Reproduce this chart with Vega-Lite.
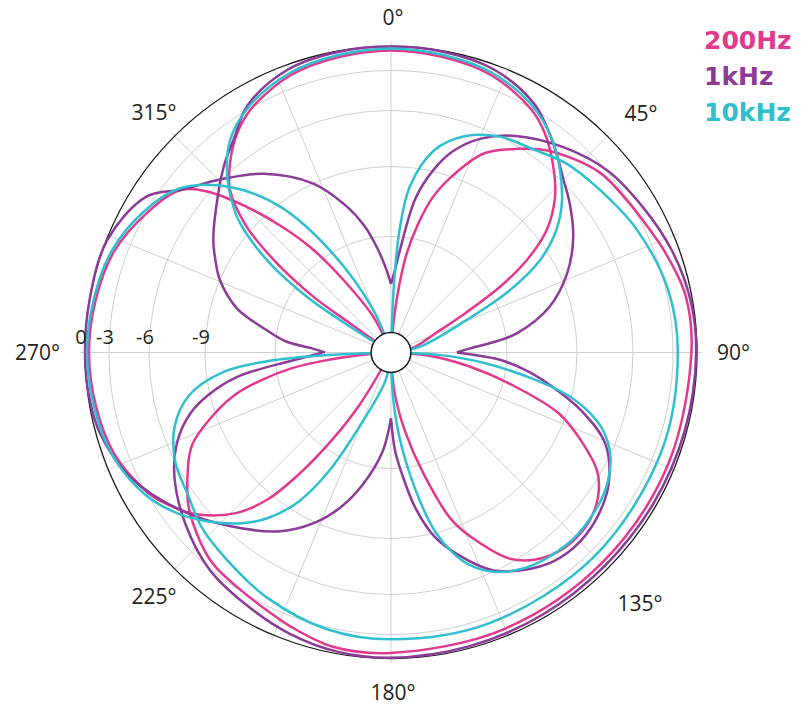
{
  "$schema": "https://vega.github.io/schema/vega-lite/v6.json",
  "width": 612,
  "height": 612,
  "autosize": {"type": "none"},
  "padding": {"left": 85, "top": 46.5, "right": 114, "bottom": 46.5},
  "background": "white",
  "config": {"view": {"stroke": null}, "font": "Open Sans"},
  "datasets": {
    "curves": [
      {"f":"200Hz","p":"top","a":-56,"db":-16.4},{"f":"200Hz","p":"top","a":-54.6,"db":-14.5},{"f":"200Hz","p":"top","a":-54.3,"db":-12.8},{"f":"200Hz","p":"top","a":-52,"db":-10.8},{"f":"200Hz","p":"top","a":-48.9,"db":-8.7},{"f":"200Hz","p":"top","a":-44.7,"db":-6.7},{"f":"200Hz","p":"top","a":-40,"db":-5.4},{"f":"200Hz","p":"top","a":-35,"db":-4.05},{"f":"200Hz","p":"top","a":-30,"db":-3.1},{"f":"200Hz","p":"top","a":-20,"db":-1.4},{"f":"200Hz","p":"top","a":-10,"db":-0.75},{"f":"200Hz","p":"top","a":0,"db":-0.5},{"f":"200Hz","p":"top","a":10,"db":-0.75},{"f":"200Hz","p":"top","a":20,"db":-1.4},{"f":"200Hz","p":"top","a":30,"db":-3.1},{"f":"200Hz","p":"top","a":35,"db":-4.05},{"f":"200Hz","p":"top","a":40.6,"db":-5.5},{"f":"200Hz","p":"top","a":46.5,"db":-6.85},{"f":"200Hz","p":"top","a":51.8,"db":-8.35},{"f":"200Hz","p":"top","a":55.7,"db":-9.9},{"f":"200Hz","p":"top","a":58.9,"db":-11.5},{"f":"200Hz","p":"top","a":62.6,"db":-13.4},{"f":"200Hz","p":"top","a":66.3,"db":-14.5},{"f":"200Hz","p":"top","a":79,"db":-15.6},{"f":"200Hz","p":"top","a":82,"db":-16.4},
      {"f":"200Hz","p":"left","a":208,"db":-16.4},{"f":"200Hz","p":"left","a":211,"db":-14.1},{"f":"200Hz","p":"left","a":214,"db":-12.4},{"f":"200Hz","p":"left","a":217,"db":-10.5},{"f":"200Hz","p":"left","a":220,"db":-8.7},{"f":"200Hz","p":"left","a":224,"db":-7.0},{"f":"200Hz","p":"left","a":230,"db":-5.25},{"f":"200Hz","p":"left","a":235,"db":-4.05},{"f":"200Hz","p":"left","a":240,"db":-3.1},{"f":"200Hz","p":"left","a":250,"db":-1.4},{"f":"200Hz","p":"left","a":260,"db":-0.75},{"f":"200Hz","p":"left","a":270,"db":-0.5},{"f":"200Hz","p":"left","a":280,"db":-0.75},{"f":"200Hz","p":"left","a":290,"db":-1.4},{"f":"200Hz","p":"left","a":300,"db":-3.1},{"f":"200Hz","p":"left","a":307.6,"db":-4.2},{"f":"200Hz","p":"left","a":311.5,"db":-6.0},{"f":"200Hz","p":"left","a":315.3,"db":-8.0},{"f":"200Hz","p":"left","a":319,"db":-9.8},{"f":"200Hz","p":"left","a":322.8,"db":-11.4},{"f":"200Hz","p":"left","a":327,"db":-13.2},{"f":"200Hz","p":"left","a":333.7,"db":-14.9},{"f":"200Hz","p":"left","a":337,"db":-16.4},
      {"f":"200Hz","p":"inner","a":91,"db":-16.4},{"f":"200Hz","p":"inner","a":95,"db":-14.9},{"f":"200Hz","p":"inner","a":100,"db":-13.4},{"f":"200Hz","p":"inner","a":105,"db":-11.6},{"f":"200Hz","p":"inner","a":110,"db":-9.3},{"f":"200Hz","p":"inner","a":115,"db":-7.7},{"f":"200Hz","p":"inner","a":120,"db":-6.2},{"f":"200Hz","p":"inner","a":125,"db":-5.2},{"f":"200Hz","p":"inner","a":130,"db":-4.65},{"f":"200Hz","p":"inner","a":135,"db":-4.5},{"f":"200Hz","p":"inner","a":140,"db":-4.65},{"f":"200Hz","p":"inner","a":145,"db":-5.2},{"f":"200Hz","p":"inner","a":150,"db":-6.2},{"f":"200Hz","p":"inner","a":155,"db":-7.7},{"f":"200Hz","p":"inner","a":160,"db":-9.3},{"f":"200Hz","p":"inner","a":165,"db":-11.6},{"f":"200Hz","p":"inner","a":170,"db":-13.4},{"f":"200Hz","p":"inner","a":175,"db":-14.9},{"f":"200Hz","p":"inner","a":179,"db":-16.4},
      {"f":"200Hz","p":"big","a":3,"db":-16.4},{"f":"200Hz","p":"big","a":5,"db":-15.1},{"f":"200Hz","p":"big","a":7,"db":-13.8},{"f":"200Hz","p":"big","a":9,"db":-12.6},{"f":"200Hz","p":"big","a":12,"db":-11.3},{"f":"200Hz","p":"big","a":15,"db":-10.1},{"f":"200Hz","p":"big","a":19,"db":-9.0},{"f":"200Hz","p":"big","a":25,"db":-7.2},{"f":"200Hz","p":"big","a":32,"db":-6.1},{"f":"200Hz","p":"big","a":38,"db":-4.95},{"f":"200Hz","p":"big","a":49,"db":-3.5},{"f":"200Hz","p":"big","a":57,"db":-3.1},{"f":"200Hz","p":"big","a":65,"db":-2.4},{"f":"200Hz","p":"big","a":70,"db":-1.75},{"f":"200Hz","p":"big","a":79,"db":-0.75},{"f":"200Hz","p":"big","a":90,"db":-0.7},{"f":"200Hz","p":"big","a":112,"db":-0.9},{"f":"200Hz","p":"big","a":135,"db":-1.0},{"f":"200Hz","p":"big","a":158,"db":-0.9},{"f":"200Hz","p":"big","a":180,"db":-0.7},{"f":"200Hz","p":"big","a":191,"db":-0.75},{"f":"200Hz","p":"big","a":200,"db":-1.75},{"f":"200Hz","p":"big","a":205,"db":-2.4},{"f":"200Hz","p":"big","a":213,"db":-3.1},{"f":"200Hz","p":"big","a":221,"db":-3.5},{"f":"200Hz","p":"big","a":232,"db":-4.95},{"f":"200Hz","p":"big","a":238,"db":-6.1},{"f":"200Hz","p":"big","a":245,"db":-7.2},{"f":"200Hz","p":"big","a":251,"db":-9.0},{"f":"200Hz","p":"big","a":255,"db":-10.1},{"f":"200Hz","p":"big","a":258,"db":-11.3},{"f":"200Hz","p":"big","a":261,"db":-12.6},{"f":"200Hz","p":"big","a":263,"db":-13.8},{"f":"200Hz","p":"big","a":265,"db":-15.1},{"f":"200Hz","p":"big","a":267,"db":-16.4},

      {"f":"1kHz","p":"top","a":-90,"db":-13.9},{"f":"1kHz","p":"top","a":-87,"db":-13.4},{"f":"1kHz","p":"top","a":-84,"db":-12.4},{"f":"1kHz","p":"top","a":-80,"db":-11.6},{"f":"1kHz","p":"top","a":-74,"db":-10.1},{"f":"1kHz","p":"top","a":-67,"db":-9.0},{"f":"1kHz","p":"top","a":-62,"db":-8.3},{"f":"1kHz","p":"top","a":-57.7,"db":-7.7},{"f":"1kHz","p":"top","a":-50,"db":-6.75},{"f":"1kHz","p":"top","a":-42,"db":-5.4},{"f":"1kHz","p":"top","a":-36.5,"db":-4.3},{"f":"1kHz","p":"top","a":-30,"db":-2.5},{"f":"1kHz","p":"top","a":-20,"db":-0.6},{"f":"1kHz","p":"top","a":-10,"db":-0.1},{"f":"1kHz","p":"top","a":0,"db":0},{"f":"1kHz","p":"top","a":10,"db":-0.1},{"f":"1kHz","p":"top","a":20,"db":-0.6},{"f":"1kHz","p":"top","a":30,"db":-2.4},{"f":"1kHz","p":"top","a":36,"db":-3.9},{"f":"1kHz","p":"top","a":40.7,"db":-4.95},{"f":"1kHz","p":"top","a":45,"db":-5.85},{"f":"1kHz","p":"top","a":50.2,"db":-6.5},{"f":"1kHz","p":"top","a":57.6,"db":-7.4},{"f":"1kHz","p":"top","a":65.7,"db":-8.6},{"f":"1kHz","p":"top","a":73.9,"db":-9.9},{"f":"1kHz","p":"top","a":81.3,"db":-11.5},{"f":"1kHz","p":"top","a":84,"db":-12.4},{"f":"1kHz","p":"top","a":87,"db":-13.4},{"f":"1kHz","p":"top","a":90,"db":-13.9},
      {"f":"1kHz","p":"inner","a":90,"db":-13.9},{"f":"1kHz","p":"inner","a":94,"db":-12.2},{"f":"1kHz","p":"inner","a":98,"db":-11.0},{"f":"1kHz","p":"inner","a":102,"db":-9.9},{"f":"1kHz","p":"inner","a":107,"db":-8.3},{"f":"1kHz","p":"inner","a":113,"db":-6.5},{"f":"1kHz","p":"inner","a":121,"db":-5.1},{"f":"1kHz","p":"inner","a":128,"db":-4.4},{"f":"1kHz","p":"inner","a":135,"db":-4.1},{"f":"1kHz","p":"inner","a":142,"db":-4.3},{"f":"1kHz","p":"inner","a":149,"db":-5.1},{"f":"1kHz","p":"inner","a":155,"db":-6.1},{"f":"1kHz","p":"inner","a":161,"db":-7.4},{"f":"1kHz","p":"inner","a":166.6,"db":-8.8},{"f":"1kHz","p":"inner","a":171,"db":-10.2},{"f":"1kHz","p":"inner","a":175,"db":-11.8},{"f":"1kHz","p":"inner","a":177.7,"db":-12.7},{"f":"1kHz","p":"inner","a":180,"db":-13.9},
      {"f":"1kHz","p":"left","a":180,"db":-13.9},{"f":"1kHz","p":"left","a":185,"db":-12.6},{"f":"1kHz","p":"left","a":192,"db":-11.2},{"f":"1kHz","p":"left","a":198,"db":-10.0},{"f":"1kHz","p":"left","a":204.5,"db":-8.9},{"f":"1kHz","p":"left","a":211.8,"db":-7.7},{"f":"1kHz","p":"left","a":222.7,"db":-6.3},{"f":"1kHz","p":"left","a":233.3,"db":-4.4},{"f":"1kHz","p":"left","a":244.6,"db":-2.1},{"f":"1kHz","p":"left","a":254.5,"db":-0.5},{"f":"1kHz","p":"left","a":262,"db":-0.1},{"f":"1kHz","p":"left","a":270,"db":0},{"f":"1kHz","p":"left","a":280,"db":0},{"f":"1kHz","p":"left","a":291.6,"db":-0.1},{"f":"1kHz","p":"left","a":302.5,"db":-2.0},{"f":"1kHz","p":"left","a":308,"db":-4.3},{"f":"1kHz","p":"left","a":315.3,"db":-5.9},{"f":"1kHz","p":"left","a":324.5,"db":-7.2},{"f":"1kHz","p":"left","a":335.3,"db":-9.0},{"f":"1kHz","p":"left","a":343,"db":-10.4},{"f":"1kHz","p":"left","a":348,"db":-11.4},{"f":"1kHz","p":"left","a":352,"db":-12.3},{"f":"1kHz","p":"left","a":356,"db":-13.1},{"f":"1kHz","p":"left","a":360,"db":-13.8},
      {"f":"1kHz","p":"big","a":0,"db":-13.8},{"f":"1kHz","p":"big","a":3,"db":-13.2},{"f":"1kHz","p":"big","a":5,"db":-12.5},{"f":"1kHz","p":"big","a":9,"db":-10.3},{"f":"1kHz","p":"big","a":13,"db":-8.95},{"f":"1kHz","p":"big","a":17,"db":-7.7},{"f":"1kHz","p":"big","a":23,"db":-6.5},{"f":"1kHz","p":"big","a":30,"db":-5.4},{"f":"1kHz","p":"big","a":40,"db":-4.05},{"f":"1kHz","p":"big","a":50,"db":-2.9},{"f":"1kHz","p":"big","a":60,"db":-1.9},{"f":"1kHz","p":"big","a":70,"db":-0.9},{"f":"1kHz","p":"big","a":80,"db":-0.25},{"f":"1kHz","p":"big","a":90,"db":-0.1},{"f":"1kHz","p":"big","a":105,"db":-0.25},{"f":"1kHz","p":"big","a":120,"db":-0.4},{"f":"1kHz","p":"big","a":135,"db":-0.5},{"f":"1kHz","p":"big","a":150,"db":-0.4},{"f":"1kHz","p":"big","a":165,"db":-0.25},{"f":"1kHz","p":"big","a":180,"db":-0.1},{"f":"1kHz","p":"big","a":190,"db":-0.25},{"f":"1kHz","p":"big","a":200,"db":-0.9},{"f":"1kHz","p":"big","a":210,"db":-1.9},{"f":"1kHz","p":"big","a":220,"db":-2.9},{"f":"1kHz","p":"big","a":230,"db":-4.05},{"f":"1kHz","p":"big","a":240,"db":-5.4},{"f":"1kHz","p":"big","a":247,"db":-6.5},{"f":"1kHz","p":"big","a":253,"db":-7.7},{"f":"1kHz","p":"big","a":257,"db":-8.95},{"f":"1kHz","p":"big","a":261,"db":-10.3},{"f":"1kHz","p":"big","a":265,"db":-12.5},{"f":"1kHz","p":"big","a":267,"db":-13.2},{"f":"1kHz","p":"big","a":270,"db":-13.8},

      {"f":"10kHz","p":"top","a":-59,"db":-16.4},{"f":"10kHz","p":"top","a":-57.5,"db":-14.1},{"f":"10kHz","p":"top","a":-56.5,"db":-12.6},{"f":"10kHz","p":"top","a":-53.6,"db":-10.5},{"f":"10kHz","p":"top","a":-49.4,"db":-8.3},{"f":"10kHz","p":"top","a":-47.2,"db":-7.45},{"f":"10kHz","p":"top","a":-42.5,"db":-5.95},{"f":"10kHz","p":"top","a":-37.1,"db":-4.15},{"f":"10kHz","p":"top","a":-30,"db":-2.75},{"f":"10kHz","p":"top","a":-20,"db":-1.1},{"f":"10kHz","p":"top","a":-10,"db":-0.5},{"f":"10kHz","p":"top","a":0,"db":-0.25},{"f":"10kHz","p":"top","a":10,"db":-0.5},{"f":"10kHz","p":"top","a":20,"db":-1.1},{"f":"10kHz","p":"top","a":30,"db":-2.75},{"f":"10kHz","p":"top","a":37,"db":-4.1},{"f":"10kHz","p":"top","a":42.8,"db":-5.5},{"f":"10kHz","p":"top","a":48.8,"db":-6.8},{"f":"10kHz","p":"top","a":53.5,"db":-7.95},{"f":"10kHz","p":"top","a":58.2,"db":-9.45},{"f":"10kHz","p":"top","a":62.3,"db":-11.2},{"f":"10kHz","p":"top","a":66.8,"db":-13.3},{"f":"10kHz","p":"top","a":78.7,"db":-15.3},{"f":"10kHz","p":"top","a":82,"db":-16.4},
      {"f":"10kHz","p":"left","a":188,"db":-16.4},{"f":"10kHz","p":"left","a":191.3,"db":-15.3},{"f":"10kHz","p":"left","a":203.2,"db":-13.3},{"f":"10kHz","p":"left","a":207.7,"db":-11.2},{"f":"10kHz","p":"left","a":211.8,"db":-9.45},{"f":"10kHz","p":"left","a":216.5,"db":-7.95},{"f":"10kHz","p":"left","a":221.2,"db":-6.8},{"f":"10kHz","p":"left","a":227.2,"db":-5.5},{"f":"10kHz","p":"left","a":233,"db":-4.1},{"f":"10kHz","p":"left","a":240,"db":-2.75},{"f":"10kHz","p":"left","a":250,"db":-1.1},{"f":"10kHz","p":"left","a":260,"db":-0.5},{"f":"10kHz","p":"left","a":270,"db":-0.25},{"f":"10kHz","p":"left","a":280,"db":-0.5},{"f":"10kHz","p":"left","a":290,"db":-1.1},{"f":"10kHz","p":"left","a":300,"db":-2.75},{"f":"10kHz","p":"left","a":307.9,"db":-4.1},{"f":"10kHz","p":"left","a":315.8,"db":-6.6},{"f":"10kHz","p":"left","a":322.7,"db":-9.1},{"f":"10kHz","p":"left","a":329.2,"db":-11.9},{"f":"10kHz","p":"left","a":337.4,"db":-14.65},{"f":"10kHz","p":"left","a":341,"db":-16.4},
      {"f":"10kHz","p":"inner","a":90,"db":-16.4},{"f":"10kHz","p":"inner","a":93,"db":-14.5},{"f":"10kHz","p":"inner","a":96.5,"db":-12.8},{"f":"10kHz","p":"inner","a":101,"db":-10.5},{"f":"10kHz","p":"inner","a":104,"db":-9.0},{"f":"10kHz","p":"inner","a":107,"db":-7.8},{"f":"10kHz","p":"inner","a":110,"db":-6.9},{"f":"10kHz","p":"inner","a":115,"db":-6.0},{"f":"10kHz","p":"inner","a":121,"db":-5.2},{"f":"10kHz","p":"inner","a":125,"db":-4.9},{"f":"10kHz","p":"inner","a":130,"db":-4.7},{"f":"10kHz","p":"inner","a":135,"db":-4.6},{"f":"10kHz","p":"inner","a":140,"db":-4.7},{"f":"10kHz","p":"inner","a":145,"db":-4.9},{"f":"10kHz","p":"inner","a":149,"db":-5.2},{"f":"10kHz","p":"inner","a":155,"db":-6.0},{"f":"10kHz","p":"inner","a":160,"db":-6.9},{"f":"10kHz","p":"inner","a":163,"db":-7.8},{"f":"10kHz","p":"inner","a":166,"db":-9.0},{"f":"10kHz","p":"inner","a":169,"db":-10.5},{"f":"10kHz","p":"inner","a":173.5,"db":-12.8},{"f":"10kHz","p":"inner","a":177,"db":-14.5},{"f":"10kHz","p":"inner","a":180,"db":-16.4},
      {"f":"10kHz","p":"big","a":1,"db":-16.4},{"f":"10kHz","p":"big","a":2.5,"db":-13.8},{"f":"10kHz","p":"big","a":4,"db":-11.7},{"f":"10kHz","p":"big","a":6.5,"db":-9.8},{"f":"10kHz","p":"big","a":12,"db":-7.9},{"f":"10kHz","p":"big","a":19,"db":-6.7},{"f":"10kHz","p":"big","a":27,"db":-6.0},{"f":"10kHz","p":"big","a":35,"db":-5.55},{"f":"10kHz","p":"big","a":43,"db":-4.8},{"f":"10kHz","p":"big","a":52,"db":-4.3},{"f":"10kHz","p":"big","a":63,"db":-3.56},{"f":"10kHz","p":"big","a":77,"db":-2.75},{"f":"10kHz","p":"big","a":90,"db":-2.4},{"f":"10kHz","p":"big","a":110,"db":-2.25},{"f":"10kHz","p":"big","a":135,"db":-2.25},{"f":"10kHz","p":"big","a":160,"db":-2.25},{"f":"10kHz","p":"big","a":180,"db":-2.4},{"f":"10kHz","p":"big","a":193,"db":-2.75},{"f":"10kHz","p":"big","a":207,"db":-3.56},{"f":"10kHz","p":"big","a":218,"db":-4.3},{"f":"10kHz","p":"big","a":227,"db":-4.8},{"f":"10kHz","p":"big","a":235,"db":-5.55},{"f":"10kHz","p":"big","a":243,"db":-6.0},{"f":"10kHz","p":"big","a":251,"db":-6.7},{"f":"10kHz","p":"big","a":258,"db":-7.9},{"f":"10kHz","p":"big","a":263.5,"db":-9.8},{"f":"10kHz","p":"big","a":266,"db":-11.7},{"f":"10kHz","p":"big","a":267.5,"db":-13.8},{"f":"10kHz","p":"big","a":269,"db":-16.4}
    ],
    "angles": [
      {"a": 0, "t": "0°"}, {"a": 45, "t": "45°"}, {"a": 90, "t": "90°"}, {"a": 135, "t": "135°"},
      {"a": 180, "t": "180°"}, {"a": 225, "t": "225°"}, {"a": 270, "t": "270°"}, {"a": 315, "t": "315°"}
    ]
  },
  "layer": [
    {
      "data": {"values": [{"a":0},{"a":22.5},{"a":45},{"a":67.5},{"a":90},{"a":112.5},{"a":135},{"a":157.5},{"a":180},{"a":202.5},{"a":225},{"a":247.5},{"a":270},{"a":292.5},{"a":315},{"a":337.5}]},
      "transform": [
        {"calculate": "1.015 * sin(datum.a * PI / 180)", "as": "ex"},
        {"calculate": "1.015 * cos(datum.a * PI / 180)", "as": "ey"},
        {"calculate": "0", "as": "cx"}
      ],
      "mark": {"type": "rule", "color": "#cfcfcf", "strokeWidth": 1},
      "encoding": {
        "x": {"field": "cx", "type": "quantitative", "scale": {"domain": [-1, 1], "nice": false, "zero": false}, "axis": null},
        "y": {"field": "cx", "type": "quantitative", "scale": {"domain": [-1, 1], "nice": false, "zero": false}, "axis": null},
        "x2": {"field": "ex"},
        "y2": {"field": "ey"}
      }
    },
    {
      "data": {"values": [{"db": -3}, {"db": -6}, {"db": -9}, {"db": -12}, {"db": 0}]},
      "transform": [
        {"calculate": "datum.db >= -3 ? 1 + datum.db * 0.026133 : datum.db >= -6 ? 0.9216 + (datum.db + 3) * 0.0436 : datum.db >= -9 ? 0.7908 + (datum.db + 6) * 0.061 : datum.db >= -12 ? 0.6078 + (datum.db + 9) * 0.07623 : max(0, 0.3791 + (datum.db + 12) * 0.08616)", "as": "rn"},
        {"calculate": "0", "as": "cx"},
        {"calculate": "datum.db === 0 ? 'outer' : 'grid'", "as": "kind"}
      ],
      "mark": {"type": "point", "shape": "circle", "filled": false, "opacity": 1},
      "encoding": {
        "x": {"field": "cx", "type": "quantitative", "scale": {"domain": [-1, 1], "nice": false, "zero": false}, "axis": null},
        "y": {"field": "cx", "type": "quantitative", "scale": {"domain": [-1, 1], "nice": false, "zero": false}, "axis": null},
        "size": {"field": "rn", "type": "quantitative", "scale": {"type": "pow", "exponent": 2, "domain": [0, 1], "range": [0, 374544], "zero": true}, "legend": null},
        "stroke": {"field": "kind", "type": "nominal", "scale": {"domain": ["grid", "outer"], "range": ["#cfcfcf", "#1a1a1a"]}, "legend": null},
        "strokeWidth": {"field": "kind", "type": "nominal", "scale": {"domain": ["grid", "outer"], "range": [1, 1.3]}, "legend": null}
      }
    },
    {
      "data": {"name": "curves"},
      "transform": [
        {"filter": "datum.f === '200Hz'"},
        {"calculate": "datum.db >= -3 ? 1 + datum.db * 0.026133 : datum.db >= -6 ? 0.9216 + (datum.db + 3) * 0.0436 : datum.db >= -9 ? 0.7908 + (datum.db + 6) * 0.061 : datum.db >= -12 ? 0.6078 + (datum.db + 9) * 0.07623 : max(0, 0.3791 + (datum.db + 12) * 0.08616)", "as": "rn"},
        {"calculate": "datum.rn * sin(datum.a * PI / 180)", "as": "x"},
        {"calculate": "datum.rn * cos(datum.a * PI / 180)", "as": "y"}
      ],
      "mark": {"type": "line", "strokeWidth": 2.5, "interpolate": "catmull-rom"},
      "encoding": {
        "x": {"field": "x", "type": "quantitative", "scale": {"domain": [-1, 1], "nice": false, "zero": false}, "axis": null},
        "y": {"field": "y", "type": "quantitative", "scale": {"domain": [-1, 1], "nice": false, "zero": false}, "axis": null},
        "color": {"field": "f", "type": "nominal", "scale": {"domain": ["200Hz", "1kHz", "10kHz"], "range": ["#e2398e", "#8c3b98", "#2fbfcf"]},
          "legend": {"orient": "none", "legendX": 594, "legendY": -18, "title": null, "symbolSize": 0, "symbolStrokeWidth": 0, "symbolOpacity": 0, "labelOffset": 0, "labelFont": "DejaVu Sans", "labelFontWeight": "bold", "labelFontSize": 25, "rowPadding": 10, "padding": 0,
            "encode": {"labels": {"update": {"fill": {"scale": "color", "field": "value"}}}}}},
        "detail": {"field": "p", "type": "nominal"},
        "order": {"field": "a", "type": "quantitative"}
      }
    },
    {
      "data": {"name": "curves"},
      "transform": [
        {"filter": "datum.f === '1kHz'"},
        {"calculate": "datum.db >= -3 ? 1 + datum.db * 0.026133 : datum.db >= -6 ? 0.9216 + (datum.db + 3) * 0.0436 : datum.db >= -9 ? 0.7908 + (datum.db + 6) * 0.061 : datum.db >= -12 ? 0.6078 + (datum.db + 9) * 0.07623 : max(0, 0.3791 + (datum.db + 12) * 0.08616)", "as": "rn"},
        {"calculate": "datum.rn * sin(datum.a * PI / 180)", "as": "x"},
        {"calculate": "datum.rn * cos(datum.a * PI / 180)", "as": "y"}
      ],
      "mark": {"type": "line", "strokeWidth": 2.5, "interpolate": "catmull-rom"},
      "encoding": {
        "x": {"field": "x", "type": "quantitative", "scale": {"domain": [-1, 1], "nice": false, "zero": false}, "axis": null},
        "y": {"field": "y", "type": "quantitative", "scale": {"domain": [-1, 1], "nice": false, "zero": false}, "axis": null},
        "color": {"field": "f", "type": "nominal", "scale": {"domain": ["200Hz", "1kHz", "10kHz"], "range": ["#e2398e", "#8c3b98", "#2fbfcf"]},
          "legend": {"orient": "none", "legendX": 594, "legendY": -18, "title": null, "symbolSize": 0, "symbolStrokeWidth": 0, "symbolOpacity": 0, "labelOffset": 0, "labelFont": "DejaVu Sans", "labelFontWeight": "bold", "labelFontSize": 25, "rowPadding": 10, "padding": 0,
            "encode": {"labels": {"update": {"fill": {"scale": "color", "field": "value"}}}}}},
        "detail": {"field": "p", "type": "nominal"},
        "order": {"field": "a", "type": "quantitative"}
      }
    },
    {
      "data": {"name": "curves"},
      "transform": [
        {"filter": "datum.f === '10kHz'"},
        {"calculate": "datum.db >= -3 ? 1 + datum.db * 0.026133 : datum.db >= -6 ? 0.9216 + (datum.db + 3) * 0.0436 : datum.db >= -9 ? 0.7908 + (datum.db + 6) * 0.061 : datum.db >= -12 ? 0.6078 + (datum.db + 9) * 0.07623 : max(0, 0.3791 + (datum.db + 12) * 0.08616)", "as": "rn"},
        {"calculate": "datum.rn * sin(datum.a * PI / 180)", "as": "x"},
        {"calculate": "datum.rn * cos(datum.a * PI / 180)", "as": "y"}
      ],
      "mark": {"type": "line", "strokeWidth": 2.5, "interpolate": "catmull-rom"},
      "encoding": {
        "x": {"field": "x", "type": "quantitative", "scale": {"domain": [-1, 1], "nice": false, "zero": false}, "axis": null},
        "y": {"field": "y", "type": "quantitative", "scale": {"domain": [-1, 1], "nice": false, "zero": false}, "axis": null},
        "color": {"field": "f", "type": "nominal", "scale": {"domain": ["200Hz", "1kHz", "10kHz"], "range": ["#e2398e", "#8c3b98", "#2fbfcf"]},
          "legend": {"orient": "none", "legendX": 594, "legendY": -18, "title": null, "symbolSize": 0, "symbolStrokeWidth": 0, "symbolOpacity": 0, "labelOffset": 0, "labelFont": "DejaVu Sans", "labelFontWeight": "bold", "labelFontSize": 25, "rowPadding": 10, "padding": 0,
            "encode": {"labels": {"update": {"fill": {"scale": "color", "field": "value"}}}}}},
        "detail": {"field": "p", "type": "nominal"},
        "order": {"field": "a", "type": "quantitative"}
      }
    },
    {
      "data": {"values": [{"rn": 0.065}]},
      "transform": [{"calculate": "0", "as": "cx"}],
      "mark": {"type": "point", "shape": "circle", "filled": true, "fill": "white", "stroke": "#1a1a1a", "strokeWidth": 1.5, "opacity": 1, "fillOpacity": 1},
      "encoding": {
        "x": {"field": "cx", "type": "quantitative", "scale": {"domain": [-1, 1], "nice": false, "zero": false}, "axis": null},
        "y": {"field": "cx", "type": "quantitative", "scale": {"domain": [-1, 1], "nice": false, "zero": false}, "axis": null},
        "size": {"field": "rn", "type": "quantitative", "scale": {"type": "pow", "exponent": 2, "domain": [0, 1], "range": [0, 374544], "zero": true}, "legend": null}
      }
    },
    {
      "data": {"values": [{"db": 0, "t": "0"}, {"db": -3, "t": "-3"}, {"db": -6, "t": "-6"}, {"db": -9, "t": "-9"}]},
      "transform": [
        {"calculate": "datum.db >= -3 ? 1 + datum.db * 0.026133 : datum.db >= -6 ? 0.9216 + (datum.db + 3) * 0.0436 : datum.db >= -9 ? 0.7908 + (datum.db + 6) * 0.061 : 0.6078 + (datum.db + 9) * 0.07623", "as": "rn"},
        {"calculate": "-datum.rn", "as": "lx"},
        {"calculate": "0", "as": "cx"}
      ],
      "mark": {"type": "text", "align": "center", "baseline": "alphabetic", "dx": -4, "dy": -9, "fontSize": 20, "font": "Open Sans", "color": "#231f20"},
      "encoding": {
        "x": {"field": "lx", "type": "quantitative", "scale": {"domain": [-1, 1], "nice": false, "zero": false}, "axis": null},
        "y": {"field": "cx", "type": "quantitative", "scale": {"domain": [-1, 1], "nice": false, "zero": false}, "axis": null},
        "text": {"field": "t", "type": "nominal"}
      }
    },
    {
      "data": {"name": "angles"},
      "transform": [{"filter": "datum.a === 0"}, {"calculate": "1.1 * sin(datum.a * PI / 180)", "as": "lx"}, {"calculate": "1.1 * cos(datum.a * PI / 180)", "as": "ly"}],
      "mark": {"type": "text", "align": "center", "baseline": "middle", "dx": 2, "dy": 3, "fontSize": 21, "font": "Open Sans", "color": "#231f20"},
      "encoding": {"x": {"field": "lx", "type": "quantitative", "scale": {"domain": [-1, 1], "nice": false, "zero": false}, "axis": null}, "y": {"field": "ly", "type": "quantitative", "scale": {"domain": [-1, 1], "nice": false, "zero": false}, "axis": null}, "text": {"field": "t", "type": "nominal"}}
    },
    {
      "data": {"name": "angles"},
      "transform": [{"filter": "datum.a === 45"}, {"calculate": "1.1 * sin(datum.a * PI / 180)", "as": "lx"}, {"calculate": "1.1 * cos(datum.a * PI / 180)", "as": "ly"}],
      "mark": {"type": "text", "align": "center", "baseline": "middle", "dx": 12, "dy": 0.5, "fontSize": 21, "font": "Open Sans", "color": "#231f20"},
      "encoding": {"x": {"field": "lx", "type": "quantitative", "scale": {"domain": [-1, 1], "nice": false, "zero": false}, "axis": null}, "y": {"field": "ly", "type": "quantitative", "scale": {"domain": [-1, 1], "nice": false, "zero": false}, "axis": null}, "text": {"field": "t", "type": "nominal"}}
    },
    {
      "data": {"name": "angles"},
      "transform": [{"filter": "datum.a === 90"}, {"calculate": "1.1 * sin(datum.a * PI / 180)", "as": "lx"}, {"calculate": "1.1 * cos(datum.a * PI / 180)", "as": "ly"}],
      "mark": {"type": "text", "align": "center", "baseline": "middle", "dx": 6, "dy": 1, "fontSize": 21, "font": "Open Sans", "color": "#231f20"},
      "encoding": {"x": {"field": "lx", "type": "quantitative", "scale": {"domain": [-1, 1], "nice": false, "zero": false}, "axis": null}, "y": {"field": "ly", "type": "quantitative", "scale": {"domain": [-1, 1], "nice": false, "zero": false}, "axis": null}, "text": {"field": "t", "type": "nominal"}}
    },
    {
      "data": {"name": "angles"},
      "transform": [{"filter": "datum.a === 135"}, {"calculate": "1.1 * sin(datum.a * PI / 180)", "as": "lx"}, {"calculate": "1.1 * cos(datum.a * PI / 180)", "as": "ly"}],
      "mark": {"type": "text", "align": "center", "baseline": "middle", "dx": 11, "dy": 14.5, "fontSize": 21, "font": "Open Sans", "color": "#231f20"},
      "encoding": {"x": {"field": "lx", "type": "quantitative", "scale": {"domain": [-1, 1], "nice": false, "zero": false}, "axis": null}, "y": {"field": "ly", "type": "quantitative", "scale": {"domain": [-1, 1], "nice": false, "zero": false}, "axis": null}, "text": {"field": "t", "type": "nominal"}}
    },
    {
      "data": {"name": "angles"},
      "transform": [{"filter": "datum.a === 180"}, {"calculate": "1.1 * sin(datum.a * PI / 180)", "as": "lx"}, {"calculate": "1.1 * cos(datum.a * PI / 180)", "as": "ly"}],
      "mark": {"type": "text", "align": "center", "baseline": "middle", "dx": 2, "dy": 5, "fontSize": 21, "font": "Open Sans", "color": "#231f20"},
      "encoding": {"x": {"field": "lx", "type": "quantitative", "scale": {"domain": [-1, 1], "nice": false, "zero": false}, "axis": null}, "y": {"field": "ly", "type": "quantitative", "scale": {"domain": [-1, 1], "nice": false, "zero": false}, "axis": null}, "text": {"field": "t", "type": "nominal"}}
    },
    {
      "data": {"name": "angles"},
      "transform": [{"filter": "datum.a === 225"}, {"calculate": "1.1 * sin(datum.a * PI / 180)", "as": "lx"}, {"calculate": "1.1 * cos(datum.a * PI / 180)", "as": "ly"}],
      "mark": {"type": "text", "align": "center", "baseline": "middle", "dx": 1, "dy": 7.5, "fontSize": 21, "font": "Open Sans", "color": "#231f20"},
      "encoding": {"x": {"field": "lx", "type": "quantitative", "scale": {"domain": [-1, 1], "nice": false, "zero": false}, "axis": null}, "y": {"field": "ly", "type": "quantitative", "scale": {"domain": [-1, 1], "nice": false, "zero": false}, "axis": null}, "text": {"field": "t", "type": "nominal"}}
    },
    {
      "data": {"name": "angles"},
      "transform": [{"filter": "datum.a === 270"}, {"calculate": "1.1 * sin(datum.a * PI / 180)", "as": "lx"}, {"calculate": "1.1 * cos(datum.a * PI / 180)", "as": "ly"}],
      "mark": {"type": "text", "align": "center", "baseline": "middle", "dx": -17, "dy": 1, "fontSize": 21, "font": "Open Sans", "color": "#231f20"},
      "encoding": {"x": {"field": "lx", "type": "quantitative", "scale": {"domain": [-1, 1], "nice": false, "zero": false}, "axis": null}, "y": {"field": "ly", "type": "quantitative", "scale": {"domain": [-1, 1], "nice": false, "zero": false}, "axis": null}, "text": {"field": "t", "type": "nominal"}}
    },
    {
      "data": {"name": "angles"},
      "transform": [{"filter": "datum.a === 315"}, {"calculate": "1.1 * sin(datum.a * PI / 180)", "as": "lx"}, {"calculate": "1.1 * cos(datum.a * PI / 180)", "as": "ly"}],
      "mark": {"type": "text", "align": "center", "baseline": "middle", "dx": 1, "dy": -0.5, "fontSize": 21, "font": "Open Sans", "color": "#231f20"},
      "encoding": {"x": {"field": "lx", "type": "quantitative", "scale": {"domain": [-1, 1], "nice": false, "zero": false}, "axis": null}, "y": {"field": "ly", "type": "quantitative", "scale": {"domain": [-1, 1], "nice": false, "zero": false}, "axis": null}, "text": {"field": "t", "type": "nominal"}}
    }
  ]
}
